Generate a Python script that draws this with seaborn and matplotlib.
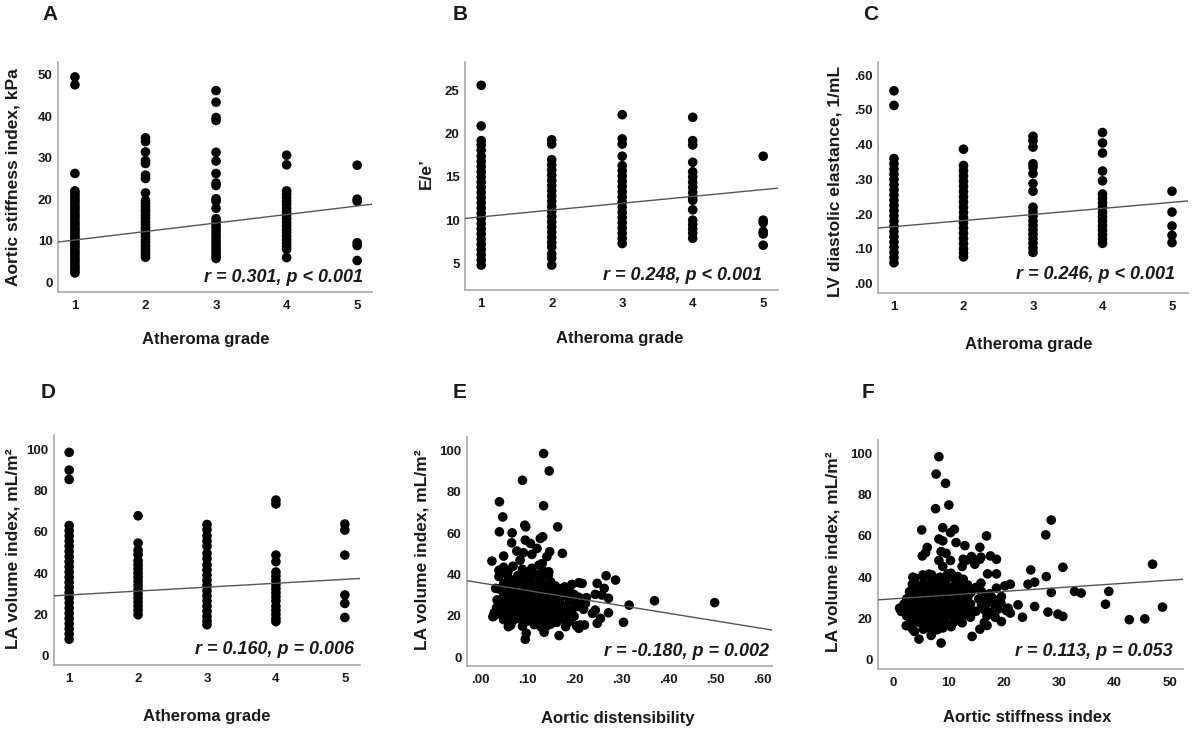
import matplotlib
matplotlib.use("Agg")
import matplotlib.pyplot as plt
import seaborn as sns
import pandas as pd

# ---------------- data ----------------
grades = [1, 2, 3, 4, 5]

# A: aortic stiffness index by atheroma grade
a_g1 = [49.5, 47.6, 26.2, 22.0, 21.4, 20.8, 20.1, 19.6, 19.0, 18.3, 17.8, 17.2, 16.5, 16.0, 15.4, 14.7,
        14.2, 13.6, 12.9, 12.4, 11.8, 11.1, 10.6, 10.0, 9.3, 8.8, 8.2, 7.5, 7.0, 6.4, 5.7, 5.2, 4.6,
        3.9, 3.4, 2.8, 2.2]
a_g2 = [34.8, 33.9, 31.4, 29.3, 28.6, 25.8, 25.0, 21.5, 19.7, 19.0, 18.3, 17.5, 16.9, 16.1, 15.4,
        14.6, 13.9, 13.1, 12.5, 11.8, 11.0, 10.3, 9.6, 8.8, 8.1, 7.4, 6.7, 6.0]
a_g3 = [46.2, 43.4, 39.7, 39.0, 31.3, 29.2, 26.2, 23.9, 23.3, 20.1, 19.5, 17.8, 15.3, 14.6, 13.8,
        13.1, 12.3, 11.5, 10.8, 10.0, 9.2, 8.5, 7.7, 7.0, 6.3, 5.7]
a_g4 = [30.6, 28.3, 22.0, 21.2, 20.4, 19.5, 18.7, 17.8, 17.0, 16.1, 15.3, 14.4, 13.6, 12.7, 11.9,
        11.0, 10.2, 9.4, 8.6, 7.9, 5.9]
a_g5 = [28.2, 20.0, 19.5, 9.5, 8.8, 5.2]

# B: E/e' by atheroma grade
b_g1 = [25.6, 20.9, 19.2, 18.7, 18.1, 17.4, 16.8, 16.2, 15.6, 15.0, 14.4, 13.8, 13.2, 12.6, 12.0,
        11.4, 10.8, 10.2, 9.6, 9.0, 8.4, 7.8, 7.2, 6.6, 6.0, 5.4, 4.8]
b_g2 = [19.3, 18.8, 17.0, 16.4, 15.8, 15.2, 14.6, 14.0, 13.4, 12.8, 12.2, 11.6, 11.0, 10.4, 9.8,
        9.2, 8.6, 8.0, 7.4, 6.9, 6.1, 5.6, 4.8]
b_g3 = [22.2, 19.4, 18.8, 17.4, 16.3, 15.7, 15.1, 14.5, 13.9, 13.3, 12.7, 12.1, 11.5, 10.9, 10.3,
        9.7, 9.1, 8.5, 7.9, 7.3]
b_g4 = [21.9, 19.2, 18.7, 16.7, 15.6, 15.0, 14.4, 13.8, 13.2, 12.6, 12.3, 11.2, 10.0, 9.5, 9.0,
        8.5, 7.9]
b_g5 = [17.4, 10.0, 9.7, 8.7, 8.4, 7.1]

# C: LV diastolic elastance by atheroma grade
c_g1 = [0.555, 0.513, 0.36, 0.345, 0.33, 0.315, 0.30, 0.285, 0.27, 0.255, 0.24, 0.225, 0.21, 0.195,
        0.18, 0.165, 0.15, 0.135, 0.12, 0.105, 0.09, 0.075, 0.06]
c_g2 = [0.387, 0.34, 0.325, 0.31, 0.295, 0.28, 0.265, 0.25, 0.235, 0.22, 0.205, 0.19, 0.175, 0.16,
        0.145, 0.13, 0.115, 0.10, 0.088, 0.077]
c_g3 = [0.424, 0.412, 0.393, 0.345, 0.335, 0.317, 0.288, 0.266, 0.22, 0.207, 0.194, 0.181, 0.168,
        0.155, 0.142, 0.129, 0.116, 0.103, 0.09]
c_g4 = [0.435, 0.405, 0.376, 0.324, 0.296, 0.258, 0.245, 0.232, 0.22, 0.205, 0.192, 0.18, 0.167,
        0.154, 0.141, 0.128, 0.116]
c_g5 = [0.266, 0.206, 0.166, 0.139, 0.118]

# D: LA volume index by atheroma grade
d_g1 = [98.4, 89.8, 85.3, 63.0, 60.5, 58.0, 55.5, 53.0, 50.5, 48.0, 45.5, 43.0, 40.5, 38.0, 35.5,
        33.0, 30.5, 28.0, 25.5, 23.0, 20.5, 18.0, 15.5, 13.0, 10.5, 8.0]
d_g2 = [67.7, 54.5, 51.0, 49.0, 46.0, 44.0, 42.0, 40.0, 38.0, 36.0, 34.0, 32.0, 30.0, 28.0, 26.0,
        24.0, 22.0, 19.8]
d_g3 = [63.5, 61.0, 58.0, 55.5, 53.0, 49.5, 47.0, 44.0, 41.5, 39.0, 36.5, 34.0, 31.5, 29.0, 26.5,
        24.0, 21.5, 19.0, 16.8, 15.0]
d_g4 = [75.3, 73.4, 48.7, 45.5, 40.5, 38.5, 36.5, 34.5, 32.5, 30.5, 28.5, 26.5, 24.0, 22.0, 20.0,
        18.0, 16.5]
d_g5 = [63.7, 60.8, 48.7, 29.4, 25.3, 18.5]

# E: LA volume index vs aortic distensibility (x, y)
e_outer = [(0.135, 98.4), (0.147, 90.0), (0.090, 85.5), (0.041, 75.1), (0.135, 73.2), (0.048, 67.8),
           (0.041, 60.6), (0.068, 60.1), (0.095, 63.8), (0.097, 63.0), (0.165, 63.0), (0.133, 58.2),
           (0.128, 57.4), (0.067, 55.3), (0.096, 56.6), (0.107, 55.0), (0.121, 52.6), (0.078, 51.3),
           (0.148, 51.0), (0.175, 50.2), (0.142, 48.6), (0.050, 48.9), (0.025, 46.5), (0.110, 49.7),
           (0.092, 50.5), (0.085, 46.9), (0.132, 45.3), (0.146, 41.3), (0.043, 40.2), (0.033, 33.3),
           (0.032, 20.4), (0.027, 19.6), (0.036, 27.7), (0.050, 22.8), (0.057, 18.0), (0.060, 14.8),
           (0.098, 11.6), (0.096, 8.7), (0.136, 12.1), (0.140, 14.8), (0.168, 10.5), (0.182, 14.8),
           (0.163, 16.9), (0.210, 14.0), (0.213, 15.6), (0.222, 15.6), (0.249, 16.4), (0.256, 18.8),
           (0.273, 21.5), (0.239, 21.2), (0.245, 22.8), (0.224, 26.0), (0.226, 28.8), (0.245, 30.4),
           (0.249, 35.7), (0.268, 39.4), (0.288, 37.3), (0.264, 33.3), (0.259, 30.1), (0.273, 28.5),
           (0.217, 35.7), (0.210, 36.0), (0.195, 35.2), (0.175, 33.3), (0.170, 32.0), (0.188, 31.2),
           (0.199, 28.5), (0.317, 25.2), (0.305, 16.9), (0.371, 27.3), (0.499, 26.4)]
e_blob = [(0.05, 43.5), (0.07, 44.0), (0.09, 42.5), (0.11, 43.0), (0.125, 44.5), (0.06, 41.8),
          (0.10, 41.0), (0.04, 42.0), (0.135, 41.5),
          (0.04, 39.0), (0.06, 38.5), (0.08, 39.5), (0.09, 38.0), (0.11, 39.0), (0.13, 38.2),
          (0.145, 39.5), (0.10, 37.5), (0.12, 40.0), (0.07, 37.0),
          (0.05, 35.5), (0.06, 36.5), (0.075, 35.0), (0.085, 36.0), (0.095, 35.5), (0.105, 36.2),
          (0.115, 35.0), (0.125, 36.0), (0.135, 35.2), (0.15, 36.5), (0.16, 34.5),
          (0.04, 33.0), (0.055, 32.5), (0.07, 33.5), (0.08, 32.0), (0.09, 33.2), (0.10, 32.5),
          (0.11, 33.8), (0.12, 32.2), (0.13, 33.0), (0.14, 32.6), (0.155, 33.5), (0.18, 34.0),
          (0.19, 32.5),
          (0.05, 30.0), (0.06, 29.5), (0.07, 30.5), (0.08, 29.2), (0.09, 30.2), (0.10, 29.8),
          (0.11, 30.6), (0.12, 29.4), (0.13, 30.3), (0.14, 29.6), (0.15, 30.8), (0.16, 29.2),
          (0.17, 30.0), (0.185, 29.5), (0.20, 30.3), (0.21, 29.0),
          (0.04, 27.0), (0.05, 26.5), (0.06, 27.5), (0.07, 26.2), (0.08, 27.4), (0.09, 26.8),
          (0.10, 27.6), (0.11, 26.4), (0.12, 27.2), (0.13, 26.6), (0.14, 27.8), (0.15, 26.3),
          (0.16, 27.0), (0.17, 26.5), (0.19, 27.3), (0.205, 26.0), (0.215, 27.5),
          (0.035, 24.0), (0.045, 23.5), (0.055, 24.5), (0.065, 23.2), (0.075, 24.4), (0.085, 23.8),
          (0.095, 24.6), (0.105, 23.4), (0.115, 24.2), (0.125, 23.6), (0.135, 24.8), (0.145, 23.3),
          (0.155, 24.0), (0.165, 23.5), (0.18, 24.3), (0.195, 23.0), (0.21, 24.5), (0.22, 23.2),
          (0.03, 21.5), (0.045, 20.8), (0.06, 21.2), (0.07, 20.5), (0.08, 21.6), (0.09, 20.9),
          (0.10, 21.4), (0.11, 20.6), (0.12, 21.3), (0.13, 20.7), (0.14, 21.5), (0.15, 20.4),
          (0.165, 21.0), (0.18, 20.6), (0.195, 21.4), (0.20, 19.8),
          (0.05, 18.2), (0.07, 17.8), (0.085, 18.5), (0.10, 17.5), (0.11, 18.4), (0.125, 17.6),
          (0.14, 18.3), (0.16, 17.9), (0.175, 18.6), (0.19, 17.4),
          (0.065, 15.5), (0.09, 15.0), (0.115, 15.8), (0.13, 14.6), (0.15, 16.0), (0.205, 15.2)]

# F: LA volume index vs aortic stiffness index (x, y)
f_outer = [(8.3, 98.4), (7.8, 90.0), (9.5, 85.5), (7.7, 73.2), (10.1, 75.0), (5.2, 62.9), (9.0, 64.0),
           (10.4, 61.6), (11.1, 63.2), (8.3, 58.5), (9.0, 57.6), (6.2, 54.4), (11.4, 56.8),
           (13.0, 55.3), (15.7, 54.5), (16.9, 60.0), (5.9, 51.9), (5.3, 50.3), (8.7, 52.4),
           (9.6, 51.6), (8.3, 48.1), (10.4, 48.1), (9.0, 45.2), (12.7, 48.7), (13.2, 48.1),
           (14.2, 50.0), (14.5, 48.4), (14.8, 46.3), (15.9, 49.7), (15.7, 48.7), (17.6, 50.3),
           (18.7, 48.7), (12.5, 45.2), (5.4, 41.1), (3.6, 40.0), (7.0, 41.1), (9.9, 41.6),
           (10.5, 41.9), (11.7, 40.3), (12.7, 39.0), (17.1, 41.6), (18.7, 41.6), (15.9, 37.1),
           (14.2, 33.1), (18.7, 34.7), (20.2, 35.8), (21.2, 36.6), (19.6, 30.6), (17.3, 31.5),
           (19.2, 29.0), (22.6, 26.6), (20.8, 25.0), (21.2, 22.6), (23.4, 20.6), (19.6, 18.5),
           (17.0, 16.6), (15.7, 14.8), (14.3, 11.3), (4.7, 10.0), (6.9, 11.8), (8.7, 8.1),
           (3.9, 13.7), (2.4, 16.5), (1.2, 25.0), (1.5, 23.4), (24.4, 36.6), (24.9, 43.5),
           (25.6, 37.6), (25.6, 25.8), (27.6, 60.5), (28.6, 67.7), (27.7, 40.3), (28.6, 32.6),
           (28.0, 23.1), (30.7, 44.8), (29.8, 22.1), (30.7, 21.0), (32.8, 33.1), (34.0, 32.3),
           (38.4, 26.9), (39.0, 33.1), (42.7, 19.4), (45.5, 19.8), (46.9, 46.3), (48.7, 25.5)]
f_blob = [(4.0, 39.5), (5.5, 40.5), (7.0, 39.0), (8.5, 40.0), (9.5, 38.5), (11.0, 39.5), (12.5, 38.0),
          (6.5, 41.5), (10.5, 41.0),
          (3.5, 36.5), (4.5, 35.5), (5.5, 37.0), (6.5, 35.8), (7.5, 36.8), (8.5, 35.5), (9.5, 36.5),
          (10.5, 35.2), (11.5, 36.6), (12.5, 35.6), (13.5, 36.2), (15.0, 35.0),
          (3.0, 33.0), (4.0, 32.5), (5.0, 33.5), (6.0, 32.2), (7.0, 33.4), (8.0, 32.6), (9.0, 33.6),
          (10.0, 32.3), (11.0, 33.2), (12.0, 32.8), (13.0, 33.5), (14.0, 32.4), (16.0, 33.0),
          (17.5, 32.0),
          (2.5, 29.5), (3.5, 30.2), (4.5, 29.4), (5.5, 30.5), (6.5, 29.6), (7.5, 30.4), (8.5, 29.2),
          (9.5, 30.6), (10.5, 29.8), (11.5, 30.3), (12.5, 29.5), (13.5, 30.0), (15.5, 29.4),
          (16.5, 28.5), (18.0, 29.8),
          (2.0, 27.0), (3.0, 26.5), (4.0, 27.5), (5.0, 26.2), (6.0, 27.4), (7.0, 26.8), (8.0, 27.6),
          (9.0, 26.4), (10.0, 27.2), (11.0, 26.6), (12.0, 27.8), (13.0, 26.3), (14.0, 27.0),
          (16.0, 26.5), (17.0, 27.3), (18.5, 26.0), (19.5, 27.5),
          (1.5, 24.0), (2.5, 23.5), (3.5, 24.5), (4.5, 23.2), (5.5, 24.4), (6.5, 23.8), (7.5, 24.6),
          (8.5, 23.4), (9.5, 24.2), (10.5, 23.6), (11.5, 24.8), (12.5, 23.3), (13.5, 24.0),
          (15.0, 23.5), (16.5, 24.3), (17.5, 23.0), (19.0, 24.5), (20.5, 23.8),
          (2.5, 21.2), (3.5, 20.5), (4.5, 21.6), (5.5, 20.8), (6.5, 21.4), (7.5, 20.6), (8.5, 21.3),
          (9.5, 20.7), (10.5, 21.5), (11.5, 20.4), (12.5, 21.0), (14.0, 20.6), (17.0, 21.4),
          (18.5, 20.5),
          (3.0, 17.5), (4.0, 18.2), (5.0, 17.8), (6.0, 18.5), (7.5, 17.5), (8.5, 18.4), (9.5, 17.6),
          (11.0, 18.3), (12.5, 17.9), (16.5, 18.0),
          (3.5, 15.0), (5.5, 14.8), (6.5, 15.6), (8.0, 14.5), (9.0, 15.4), (10.5, 16.0)]

# fitted lines (intercept, slope) as drawn in the figure
fit_a = (8.1, 2.05)
fit_b = (9.59, 0.79)
fit_c = (0.1465, 0.0175)
fit_d = (27.5, 1.89)
fit_e = (35.97, -36.7)
fit_f = (29.5, 0.181)

stats_text = ["r = 0.301, p < 0.001", "r = 0.248, p < 0.001", "r = 0.246, p < 0.001",
              "r = 0.160, p = 0.006", "r = -0.180, p = 0.002", "r = 0.113, p = 0.053"]
panel_letters = ["A", "B", "C", "D", "E", "F"]
y_titles = ["Aortic stiffness index, kPa", "E/e\u2019", "LV diastolic elastance, 1/mL",
            "LA volume index, mL/m\u00b2", "LA volume index, mL/m\u00b2", "LA volume index, mL/m\u00b2"]
x_titles = ["Atheroma grade", "Atheroma grade", "Atheroma grade",
            "Atheroma grade", "Aortic distensibility", "Aortic stiffness index"]

c_ticks = [0.0, 0.1, 0.2, 0.3, 0.4, 0.5, 0.6]
c_labels = [".00", ".10", ".20", ".30", ".40", ".50", ".60"]


def grade_frame(cols):
    rows = []
    for g, vals in zip(grades, cols):
        rows += [(g, v) for v in vals]
    return pd.DataFrame(rows, columns=["x", "y"])


def pair_frame(*lists):
    rows = []
    for lst in lists:
        rows += lst
    return pd.DataFrame(rows, columns=["x", "y"])


frames = [
    grade_frame([a_g1, a_g2, a_g3, a_g4, a_g5]),
    grade_frame([b_g1, b_g2, b_g3, b_g4, b_g5]),
    grade_frame([c_g1, c_g2, c_g3, c_g4, c_g5]),
    grade_frame([d_g1, d_g2, d_g3, d_g4, d_g5]),
    pair_frame(e_outer, e_blob),
    pair_frame(f_outer, f_blob),
]
fits = [fit_a, fit_b, fit_c, fit_d, fit_e, fit_f]

# ---------------- style ----------------
sns.set_style("white")
plt.rcParams['font.family'] = ['Liberation Sans', 'DejaVu Sans']
plt.rcParams['font.weight'] = 'bold'

W, H = 1200, 731
fig = plt.figure(figsize=(12, 7.31), dpi=100)

# axes boxes in pixels: left, top, right, bottom
boxes = [(58, 62, 372, 292), (465, 62, 778, 290), (878, 62, 1188, 293),
         (54, 435, 360, 665), (467, 437, 772, 666), (878, 440, 1183, 669)]
xlims = [(0.76, 5.21), (0.77, 5.21), (0.77, 5.23), (0.78, 5.22), (-0.028, 0.621), (-2.7, 52.4)]
ylims = [(-2.4, 53.1), (1.92, 28.3), (-0.027, 0.638), (-4.5, 106.8), (-4.2, 106.4), (-4.5, 106.5)]
# label centres in pixels
ylab_px = [(13, 177), (426, 174), (835, 181), (13, 549), (422, 550), (833, 552)]
xlab_px = [(206, 340), (620, 338), (1029, 345), (207, 717), (618, 718), (1027, 718)]
letter_px = [(42, 14), (453, 14), (863, 15), (41, 392), (453, 392), (862, 392)]
stat_px = [(363, 277), (762, 275), (1175, 274), (354, 649), (769, 652), (1173, 652)]

for i in range(6):
    l, t, r, b = boxes[i]
    ax = fig.add_axes([l / W, 1 - b / H, (r - l) / W, (b - t) / H])
    sns.scatterplot(data=frames[i], x="x", y="y", ax=ax, color="black", s=48,
                    linewidth=0, edgecolor="none", zorder=3)
    b0, b1 = fits[i]
    ax.axline((0, b0), slope=b1, color="#555555", lw=1.0, zorder=4)
    ax.set_xlim(*xlims[i])
    ax.set_ylim(*ylims[i])

    if i < 4:
        ax.set_xticks(grades)
    elif i == 4:
        ax.set_xticks(c_ticks, c_labels)
    else:
        ax.set_xticks([0, 10, 20, 30, 40, 50])

    if i == 0:
        ax.set_yticks([0, 10, 20, 30, 40, 50])
    elif i == 1:
        ax.set_yticks([5, 10, 15, 20, 25])
    elif i == 2:
        ax.set_yticks(c_ticks, c_labels)
    else:
        ax.set_yticks([0, 20, 40, 60, 80, 100])

    ax.tick_params(axis='both', length=0, labelsize=9.5, colors='#1a1a1a')
    ax.tick_params(axis='x', pad=6)
    ax.tick_params(axis='y', pad=4)
    for lab in ax.get_xticklabels() + ax.get_yticklabels():
        lab.set_fontweight('bold')

    for side in ['top', 'right']:
        ax.spines[side].set_visible(False)
    for side in ['left', 'bottom']:
        ax.spines[side].set_color('#a8a8a8')
        ax.spines[side].set_linewidth(1.2)

    ax.set_xlabel("")
    ax.set_ylabel("")
    yx, yy = ylab_px[i]
    fig.text(yx / W, 1 - yy / H, y_titles[i], rotation=90, fontsize=12.5, fontweight='bold',
             ha='center', va='center', color='#1a1a1a')
    xx, xy = xlab_px[i]
    fig.text(xx / W, 1 - xy / H, x_titles[i], fontsize=12, fontweight='bold',
             ha='center', va='center', color='#1a1a1a')

    lx, ly = letter_px[i]
    fig.text(lx / W, 1 - ly / H, panel_letters[i], fontsize=15, fontweight='bold',
             ha='left', va='center', color='#1a1a1a')
    sx, sy = stat_px[i]
    fig.text(sx / W, 1 - sy / H, stats_text[i], fontsize=13, fontweight='bold',
             fontstyle='italic', ha='right', va='center', color='#1a1a1a')

fig.savefig("out.png", dpi=100)
